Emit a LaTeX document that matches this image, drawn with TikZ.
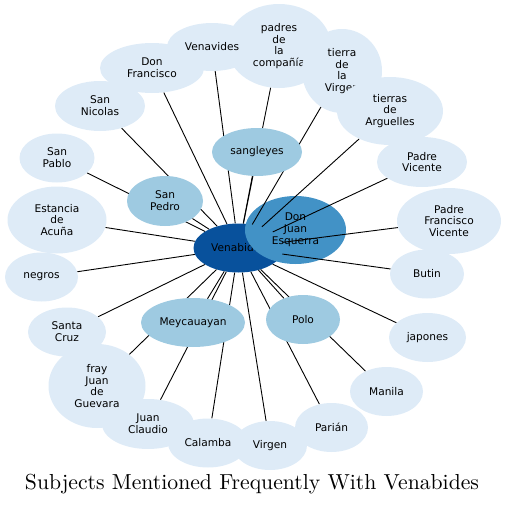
\documentclass[tikz,border=0pt]{standalone}
\usepackage{fontspec}
\newfontfamily\dejavu{DejaVu Sans}
\usetikzlibrary{shapes.geometric}
\pgfdeclarelayer{back}
\pgfdeclarelayer{mid}
\pgfsetlayers{back,mid,main}
\definecolor{lightb}{HTML}{DEEBF7}
\definecolor{midb}{HTML}{9ECAE1}
\definecolor{djeb}{HTML}{4292C6}
\definecolor{darkb}{HTML}{08519C}
\begin{document}
\begin{tikzpicture}[x=1pt,y=-1pt,
  nd/.style={ellipse, inner sep=0pt, draw=none, align=center, text=black,
    font=\dejavu\fontsize{10.6}{11.8}\selectfont},
  sz/.style 2 args={minimum width=#1pt, minimum height=#2pt},
  outer/.style={nd, fill=lightb},
  inner/.style={nd, fill=midb},
  conn/.style={draw=black, line width=0.9pt}
]
\useasboundingbox (0,0) rectangle (506,506);

\begin{pgfonlayer}{back}
\node[nd, fill=darkb, sz={90}{49}] (ven) at (238.5,248) {Venabides};
\node[nd, fill=djeb, sz={101}{68}] (dje) at (295.5,230) {Don\\Juan\\Esquerra};
\end{pgfonlayer}

% inner ring
\node[inner, sz={90}{48}] (sang) at (257,152) {sangleyes};
\node[inner, sz={76}{50}] (spedro) at (165,201) {San\\Pedro};
\node[inner, sz={104}{49}] (mey) at (193,322.5) {Meycauayan};
\node[inner, sz={74}{49}] (polo) at (303,319.5) {Polo};

% outer ring
\node[outer, sz={104}{84}] (padres) at (279,46) {padres\\de\\la\\compañía};
\node[outer, sz={80}{84}] (tvirg) at (342,71) {tierra\\de\\la\\Virgen};
\node[outer, sz={106}{68}] (targ) at (390,111) {tierras\\de\\Arguelles};
\node[outer, sz={104}{50}] (dfran) at (152,68) {Don\\Francisco};
\node[outer, sz={90}{48}] (venav) at (212,47) {Venavides};
\node[outer, sz={90}{50}] (pvic) at (422,162) {Padre\\Vicente};
\node[outer, sz={104}{66}] (pfv) at (449,221) {Padre\\Francisco\\Vicente};
\node[outer, sz={74}{49}] (butin) at (427,274) {Butin};
\node[outer, sz={77}{49}] (jap) at (427.5,337.5) {japones};
\node[outer, sz={73}{49}] (manila) at (386.5,391.5) {Manila};
\node[outer, sz={73}{49}] (parian) at (331.5,427.5) {Parián};
\node[outer, sz={74}{49}] (virgen) at (270,445.5) {Virgen};
\node[outer, sz={80}{49}] (calamba) at (208,443) {Calamba};
\node[outer, sz={92}{50}] (jclaudio) at (148,424) {Juan\\Claudio};
\node[outer, sz={78}{49}] (scruz) at (67,332) {Santa\\Cruz};
\node[outer, sz={97}{84}] (fray) at (97,386) {fray\\Juan\\de\\Guevara};
\node[outer, sz={73}{49}] (negros) at (41.5,277) {negros};
\node[outer, sz={99}{67}] (estancia) at (57,220) {Estancia\\de\\Acuña};
\node[outer, sz={75}{49}] (spablo) at (57,158) {San\\Pablo};
\node[outer, sz={90}{50}] (snic) at (100,106) {San\\Nicolas};

\begin{pgfonlayer}{mid}
\foreach \t in {sang,spedro,mey,polo,dfran,venav,padres,tvirg,targ,pvic,pfv,butin,jap,manila,parian,virgen,calamba,jclaudio,scruz,fray,negros,estancia,spablo,snic}
  \draw[conn] (ven) -- (\t);
\end{pgfonlayer}

\node[inner sep=0pt] (title) at (252,484) {\resizebox{454pt}{!}{Subjects Mentioned Frequently With Venabides}};
\end{tikzpicture}
\end{document}
